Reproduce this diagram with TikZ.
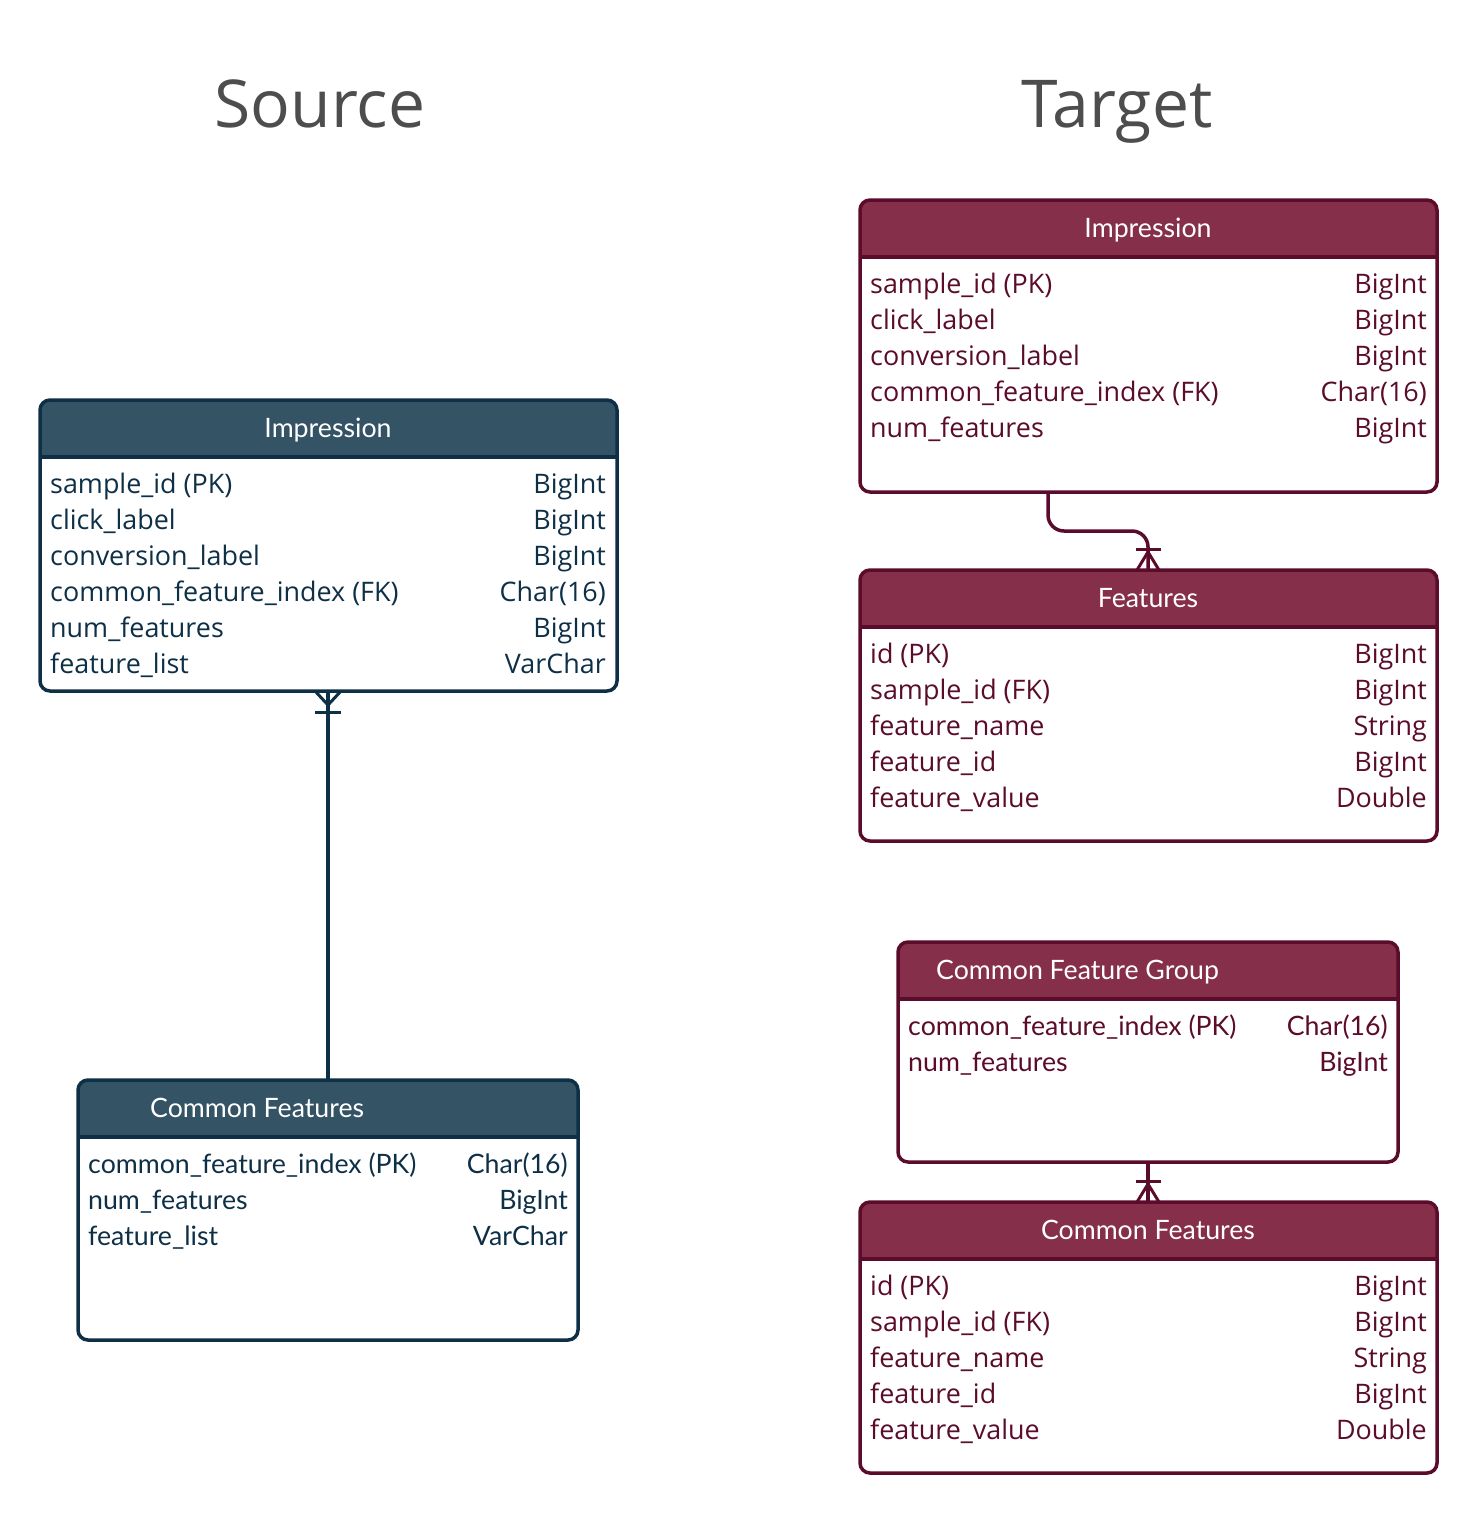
\documentclass[tikz,border=0pt]{standalone}
\usepackage{fontspec}
\setmainfont{Open Sans}
\newfontfamily\latof{Lato}
\newfontfamily\osf{Open Sans}
\definecolor{srcstroke}{HTML}{0E3047}
\definecolor{srcfill}{HTML}{345365}
\definecolor{tgtstroke}{HTML}{5B0C2A}
\definecolor{tgtfill}{HTML}{862F4A}
\definecolor{titlegray}{HTML}{4D4D4D}
\tikzset{
  bodyO/.style={font=\osf\fontsize{26.9}{30}\selectfont, inner sep=0pt},
  bodyL/.style={font=\latof\fontsize{26.7}{30}\selectfont, inner sep=0pt},
  hdr/.style={font=\latof\fontsize{26.7}{30}\selectfont, text=white, inner sep=0pt},
  ttl/.style={font=\osf\fontsize{66}{70}\selectfont, text=titlegray, inner sep=0pt},
  conn/.style={line width=3.5pt},
  foot/.style={line width=3pt},
}
% name, x, y, w, h, fill, stroke
\newcommand{\erbox}[7]{%
  \node[minimum width=#4pt, minimum height=#5pt, anchor=north west, inner sep=0pt, outer sep=0pt] (#1) at (#2,#3) {};
  \begin{scope}
    \clip[rounded corners=10pt] (#1.north west) rectangle (#1.south east);
    \fill[#6] (#1.north west) rectangle ([yshift=-57pt]#1.north east);
  \end{scope}
  \draw[#7, line width=3.5pt] ([yshift=-57pt]#1.north west) -- ([yshift=-57pt]#1.north east);
  \draw[#7, line width=3.5pt, rounded corners=10pt] (#1.north west) rectangle (#1.south east);
}
\begin{document}
\begin{tikzpicture}[x=1pt,y=-1pt]
\useasboundingbox (0,0) rectangle (1478,1513);

% titles
\node[ttl, anchor=base] (tsrc) at (320,127) {Source};
\node[ttl, anchor=base] (ttgt) at (1117,127) {Target};

% ---------- Source ----------
\erbox{simp}{40}{400}{577}{291}{srcfill}{srcstroke}
\node[hdr, anchor=base] (simp-h) at (328,437) {Impression};
\foreach \l/\r [count=\i] in {sample\_id (PK)/BigInt, click\_label/BigInt, conversion\_label/BigInt, common\_feature\_index (FK)/Char(16), num\_features/BigInt, feature\_list/VarChar}{
  \node[bodyO, text=srcstroke, anchor=base west] (simp-l\i) at (50,{457+36*\i}) {\l};
  \node[bodyO, text=srcstroke, anchor=base east] (simp-r\i) at (606,{457+36*\i}) {\r};
}

\erbox{scf}{78}{1080}{500}{260}{srcfill}{srcstroke}
\node[hdr, anchor=base west] (scf-h) at (150,1117) {Common Features};
\foreach \l/\r [count=\i] in {common\_feature\_index (PK)/Char(16), num\_features/BigInt, feature\_list/VarChar}{
  \node[bodyL, text=srcstroke, anchor=base west] (scf-l\i) at (88,{1137+36*\i}) {\l};
  \node[bodyL, text=srcstroke, anchor=base east] (scf-r\i) at (568,{1137+36*\i}) {\r};
}

% source connector
\draw[conn, srcstroke] (scf.north) -- (scf.north |- simp.south);
\coordinate (sbase) at (scf.north |- simp.south);
\coordinate (sft) at ([yshift=-14pt]sbase);
\draw[foot, srcstroke] ([xshift=-13pt]sbase) -- (sft) -- ([xshift=13pt]sbase);
\draw[foot, srcstroke] ([xshift=-13pt,yshift=-21pt]sbase) -- ([xshift=13pt,yshift=-21pt]sbase);

% ---------- Target ----------
\erbox{timp}{860}{200}{577}{292}{tgtfill}{tgtstroke}
\node[hdr, anchor=base] (timp-h) at (1148,237) {Impression};
\foreach \l/\r [count=\i] in {sample\_id (PK)/BigInt, click\_label/BigInt, conversion\_label/BigInt, common\_feature\_index (FK)/Char(16), num\_features/BigInt}{
  \node[bodyO, text=tgtstroke, anchor=base west] (timp-l\i) at (870,{257+36*\i}) {\l};
  \node[bodyO, text=tgtstroke, anchor=base east] (timp-r\i) at (1427,{257+36*\i}) {\r};
}

\erbox{tfeat}{860}{570}{577}{271}{tgtfill}{tgtstroke}
\node[hdr, anchor=base] (tfeat-h) at (1148,607) {Features};
\foreach \l/\r [count=\i] in {id (PK)/BigInt, sample\_id (FK)/BigInt, feature\_name/String, feature\_id/BigInt, feature\_value/Double}{
  \node[bodyO, text=tgtstroke, anchor=base west] (tfeat-l\i) at (870,{627+36*\i}) {\l};
  \node[bodyO, text=tgtstroke, anchor=base east] (tfeat-r\i) at (1427,{627+36*\i}) {\r};
}

\erbox{cfg}{898}{942}{500}{220}{tgtfill}{tgtstroke}
\node[hdr, anchor=base west] (cfg-h) at (936,979) {Common Feature Group};
\foreach \l/\r [count=\i] in {common\_feature\_index (PK)/Char(16), num\_features/BigInt}{
  \node[bodyL, text=tgtstroke, anchor=base west] (cfg-l\i) at (908,{999+36*\i}) {\l};
  \node[bodyL, text=tgtstroke, anchor=base east] (cfg-r\i) at (1388,{999+36*\i}) {\r};
}

\erbox{tcf}{860}{1202}{577}{271}{tgtfill}{tgtstroke}
\node[hdr, anchor=base] (tcf-h) at (1148,1239) {Common Features};
\foreach \l/\r [count=\i] in {id (PK)/BigInt, sample\_id (FK)/BigInt, feature\_name/String, feature\_id/BigInt, feature\_value/Double}{
  \node[bodyO, text=tgtstroke, anchor=base west] (tcf-l\i) at (870,{1259+36*\i}) {\l};
  \node[bodyO, text=tgtstroke, anchor=base east] (tcf-r\i) at (1427,{1259+36*\i}) {\r};
}

% target connector Impression -> Features
\coordinate (ta) at (1048,492);
\coordinate (tb) at (cfg.south |- tfeat.north);
\draw[conn, tgtstroke, rounded corners=16pt] (ta) -- (1048,531) -- (tb |- 0,531) -- (tb);
\coordinate (tft) at ([yshift=18pt]tb);
\draw[foot, tgtstroke] ([xshift=-11pt]tb) -- (tft) -- ([xshift=11pt]tb);
\draw[foot, tgtstroke] ([xshift=-12.5pt,yshift=21pt]tb) -- ([xshift=12.5pt,yshift=21pt]tb);

% target connector CFG -> Common Features
\coordinate (cb) at (cfg.south |- tcf.north);
\draw[conn, tgtstroke] (cfg.south) -- (cb);
\coordinate (cft) at ([yshift=18pt]cb);
\draw[foot, tgtstroke] ([xshift=-11pt]cb) -- (cft) -- ([xshift=11pt]cb);
\draw[foot, tgtstroke] ([xshift=-12.5pt,yshift=21pt]cb) -- ([xshift=12.5pt,yshift=21pt]cb);
\end{tikzpicture}
\end{document}
